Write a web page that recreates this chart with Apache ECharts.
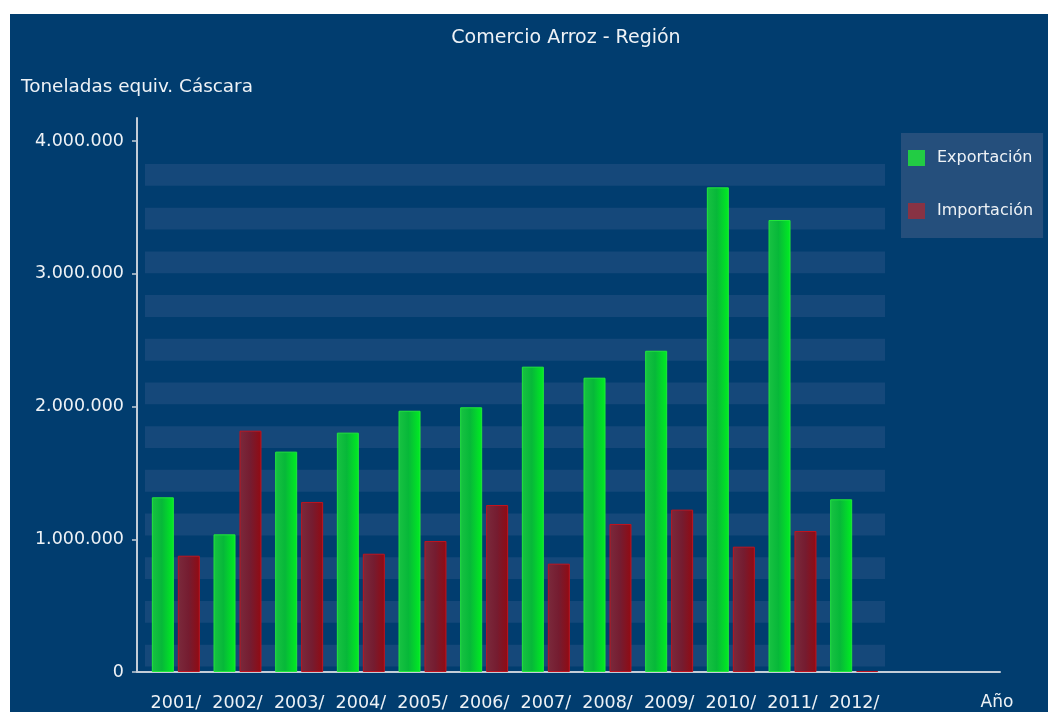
<!DOCTYPE html>
<html>
<head>
<meta charset="utf-8">
<script src="https://cdn.jsdelivr.net/npm/echarts@6/dist/echarts.min.js"></script>
<style>
  html, body { margin: 0; padding: 0; background: #ffffff; }
  #chart { position: absolute; left: 10px; top: 14px; width: 1038px; height: 698px; }
</style>
</head>
<body>
<div id="chart"></div>
<script>
const categories = ['2001/', '2002/', '2003/', '2004/', '2005/', '2006/', '2007/', '2008/', '2009/', '2010/', '2011/', '2012/'];
const exportacion = [1316000, 1037000, 1660000, 1803000, 1968000, 1994000, 2300000, 2217000, 2420000, 3651000, 3405000, 1301000];
const importacion = [876000, 1818000, 1281000, 891000, 987000, 1258000, 816000, 1115000, 1223000, 944000, 1062000, 8000];
const seriesNames = ['Exportación', 'Importación'];
const yTicks = [0, 1000000, 2000000, 3000000, 4000000];

const FONT = 'DejaVu Sans';
const TXT = '#eef2f6';
const AXIS = '#c3cdd8';

function fmt(v) {
  return String(Math.round(v)).replace(/\B(?=(\d{3})+(?!\d))/g, '.');
}

const chart = echarts.init(document.getElementById('chart'));
chart.setOption({
  backgroundColor: '#013d6f',
  animation: false,
  title: {
    text: 'Comercio Arroz - Región',
    left: 551,
    textAlign: 'center',
    top: 10,
    textStyle: { color: TXT, fontFamily: FONT, fontSize: 19, fontWeight: 'normal' }
  },
  legend: {
    orient: 'vertical',
    left: 891,
    top: 119,
    padding: [17, 10, 19, 7],
    itemWidth: 17,
    itemHeight: 16,
    itemGap: 37,
    backgroundColor: '#254f7c',
    icon: 'rect',
    textStyle: { color: TXT, fontFamily: FONT, fontSize: 16, padding: [0, 0, 0, 7], lineHeight: 16 },
    data: [
      { name: seriesNames[0], itemStyle: { color: '#22cc44', borderWidth: 0 } },
      { name: seriesNames[1], itemStyle: { color: '#883344', borderWidth: 0 } }
    ]
  },
  grid: [
    { left: 135, right: 163, top: 127, bottom: 40 },
    { left: 127, right: 48, top: 104, bottom: 40 },
    { left: 135, right: 163, top: 150, bottom: 45.5 }
  ],
  xAxis: [
    {
      type: 'category', gridIndex: 0, data: categories,
      axisLine: { show: false }, axisTick: { show: false },
      axisLabel: { color: TXT, fontFamily: FONT, fontSize: 17.5, margin: 22, interval: 0 }
    },
    {
      type: 'value', gridIndex: 1, min: 0, max: 1,
      axisLine: { show: true, lineStyle: { color: AXIS, width: 2 } },
      axisTick: { show: false }, axisLabel: { show: false }, splitLine: { show: false },
      name: 'Año', nameLocation: 'end', nameGap: -3,
      nameTextStyle: { color: TXT, fontFamily: FONT, fontSize: 17, align: 'center', verticalAlign: 'top', padding: [22, 0, 0, 0] }
    },
    {
      type: 'value', gridIndex: 2, min: 0, max: 1,
      axisLine: { show: false }, axisTick: { show: false }, axisLabel: { show: false }, splitLine: { show: false }
    }
  ],
  yAxis: [
    {
      type: 'value', gridIndex: 0, min: yTicks[0], max: yTicks[yTicks.length - 1], interval: yTicks[1] - yTicks[0],
      offset: 8,
      axisLine: { show: false },
      axisTick: { show: true, length: 5, lineStyle: { color: AXIS, width: 1.5 } },
      axisLabel: { color: TXT, fontFamily: FONT, fontSize: 17.5, margin: 13, formatter: fmt },
      splitLine: { show: false },
      name: 'Toneladas equiv. Cáscara', nameLocation: 'end', nameGap: 54,
      nameTextStyle: { color: TXT, fontFamily: FONT, fontSize: 18.4, align: 'center', verticalAlign: 'middle' }
    },
    {
      type: 'value', gridIndex: 1, min: 0, max: 1,
      axisLine: { show: true, lineStyle: { color: AXIS, width: 2 } },
      axisTick: { show: false }, axisLabel: { show: false }, splitLine: { show: false }
    },
    {
      type: 'value', gridIndex: 2, min: 0, max: 23, interval: 1,
      axisLine: { show: false }, axisTick: { show: false }, axisLabel: { show: false }, splitLine: { show: false },
      splitArea: { show: true, areaStyle: { color: ['#15487a', 'rgba(0,0,0,0)'] } }
    }
  ],
  series: [
    {
      name: seriesNames[0], type: 'bar', xAxisIndex: 0, yAxisIndex: 0,
      data: exportacion, barWidth: 22, barGap: '18%',
      itemStyle: {
        color: new echarts.graphic.LinearGradient(0, 0, 1, 0, [
          { offset: 0, color: '#18c242' },
          { offset: 0.45, color: '#07b839' },
          { offset: 1, color: '#00ee22' }
        ]),
        borderColor: '#22e83a', borderWidth: 1
      }
    },
    {
      name: seriesNames[1], type: 'bar', xAxisIndex: 0, yAxisIndex: 0,
      data: importacion, barWidth: 22,
      itemStyle: {
        color: new echarts.graphic.LinearGradient(0, 0, 1, 0, [
          { offset: 0, color: '#7a2a3c' },
          { offset: 0.5, color: '#751c30' },
          { offset: 1, color: '#920a12' }
        ]),
        borderColor: '#c0141e', borderWidth: 1
      }
    }
  ]
});
</script>
</body>
</html>
